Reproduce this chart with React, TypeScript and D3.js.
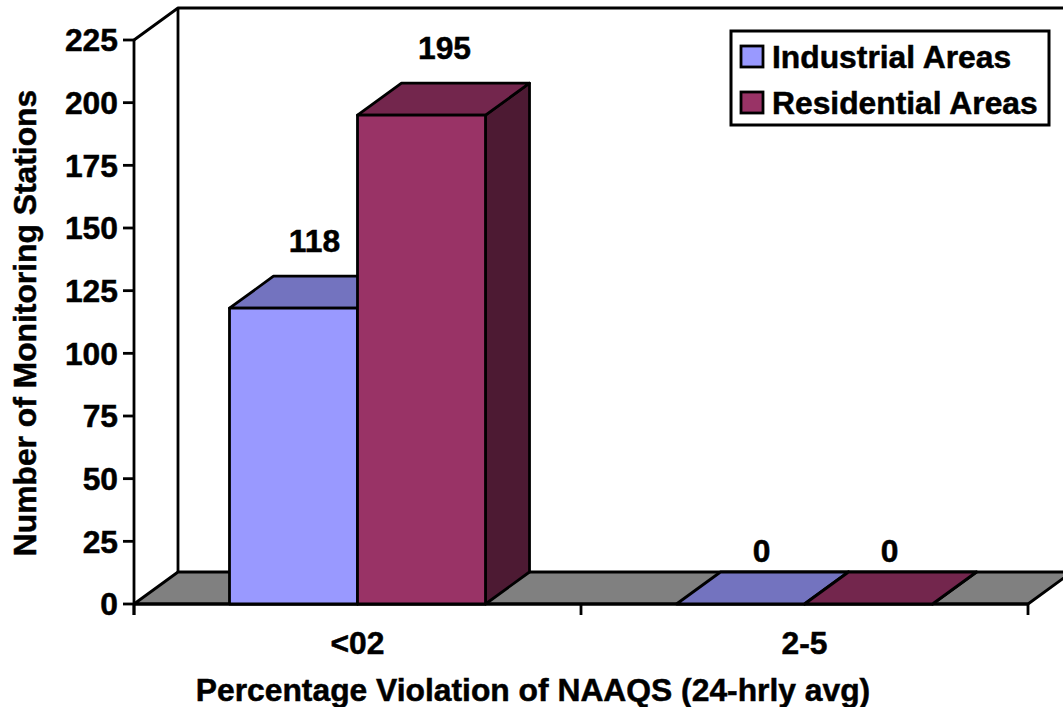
import React from "react";
import * as d3 from "d3";

const categories = ["<02", "2-5"];
const seriesNames = ["Industrial Areas", "Residential Areas"];
const industrial = [118, 0];
const residential = [195, 0];
const yTicks = [0, 25, 50, 75, 100, 125, 150, 175, 200, 225];
const frontColors = ["#9999FF", "#993366"];
const topColors = ["#7373BF", "#73264D"];
const sideColors = ["#4D2699", "#4D1A33"];

const W = 1063, H = 707;
const left = 134, right = 1028, bottom = 604, top = 40;
const dx = 44, dy = -32;
const FONT = "'Liberation Sans', Arial, sans-serif";
const FS = 31.8;

const x0 = d3.scaleBand<string>().domain(categories).range([left, right]).paddingInner(0).paddingOuter(0);
const inner = d3.scaleBand<string>().domain(["0", "1"]).range([0, x0.bandwidth()]).paddingInner(0).paddingOuter(0.746).align(0.5);
const y = d3.scaleLinear().domain([0, 225]).range([bottom, top]);
const poly = (pts: [number, number][]) => d3.line()(pts) + "Z";
const S = { stroke: "#000", strokeWidth: 2.8, strokeLinejoin: "round" as const };

const series = [industrial, residential];

export default function App() {
  const bars = series.flatMap((vals, s) =>
    vals.map((v, c) => ({ v, s, c, x: x0(categories[c])! + inner(String(s))!, w: inner.bandwidth() }))
  );
  const txt = { fontFamily: FONT, fontWeight: 700, fontSize: FS, fill: "#000", stroke: "#000", strokeWidth: 0.5 };
  return (
    <svg width={W} height={H} style={{ position: "absolute", left: 0, top: 0, background: "#fff" }}>
      {/* floor */}
      <path d={poly([[left, bottom], [left + dx, bottom + dy], [right + dx, bottom + dy], [right, bottom]])} fill="#808080" {...S} />
      {/* walls */}
      <path d={`M${left},${top}L${left + dx},${top + dy}H${W + 10}`} fill="none" {...S} />
      <path d={`M${left + dx},${top + dy}V${bottom + dy}`} fill="none" {...S} />
      <path d={`M${left},${top}V${bottom + 11}`} fill="none" {...S} />
      <path d={`M${left},${bottom}H${right}`} fill="none" {...S} />
      {/* axis ticks */}
      {yTicks.map((t) => (
        <g key={t}>
          <line x1={left - 11} x2={left} y1={y(t)} y2={y(t)} {...S} />
          <text x={left - 16} y={y(t)} dy="0.36em" textAnchor="end" {...txt}>{t}</text>
        </g>
      ))}
      {[...categories.map((c) => x0(c)!), right].map((t) => (
        <line key={t} x1={t} x2={t} y1={bottom} y2={bottom + 11} {...S} />
      ))}
      {categories.map((c) => (
        <text key={c} x={x0(c)! + x0.bandwidth() / 2} y={654} textAnchor="middle" {...txt}>{c}</text>
      ))}
      {/* bars */}
      {bars.map((b) => {
        const yt = y(b.v);
        return (
          <g key={`${b.s}-${b.c}`}>
            <path d={poly([[b.x + b.w, yt], [b.x + b.w + dx, yt + dy], [b.x + b.w + dx, bottom + dy], [b.x + b.w, bottom]])} fill={sideColors[b.s]} {...S} />
            <path d={poly([[b.x, yt], [b.x + dx, yt + dy], [b.x + b.w + dx, yt + dy], [b.x + b.w, yt]])} fill={topColors[b.s]} {...S} />
            {b.v > 0 && <rect x={b.x} y={yt} width={b.w} height={bottom - yt} fill={frontColors[b.s]} {...S} />}
            <text x={b.x + b.w / 2 + (b.s === 1 && b.v > 0 ? 23 : 21)} y={yt + dy - (b.v > 0 ? 24.5 : 10)} textAnchor="middle" {...txt}>{b.v}</text>
          </g>
        );
      })}
      {/* titles */}
      <text x={533} y={701} textAnchor="middle" {...txt}>Percentage Violation of NAAQS (24-hrly avg)</text>
      <text transform={`translate(36,323) rotate(-90)`} textAnchor="middle" {...txt}>Number of Monitoring Stations</text>
      {/* legend */}
      <rect x={731} y={31} width={318} height={94} fill="#fff" stroke="#000" strokeWidth={3} />
      {seriesNames.map((n, i) => (
        <g key={n}>
          <rect x={741} y={46 + i * 46} width={22} height={21} fill={frontColors[i]} stroke="#000" strokeWidth={2.8} />
          <text x={772} y={68 + i * 46} {...txt}>{n}</text>
        </g>
      ))}
    </svg>
  );
}
